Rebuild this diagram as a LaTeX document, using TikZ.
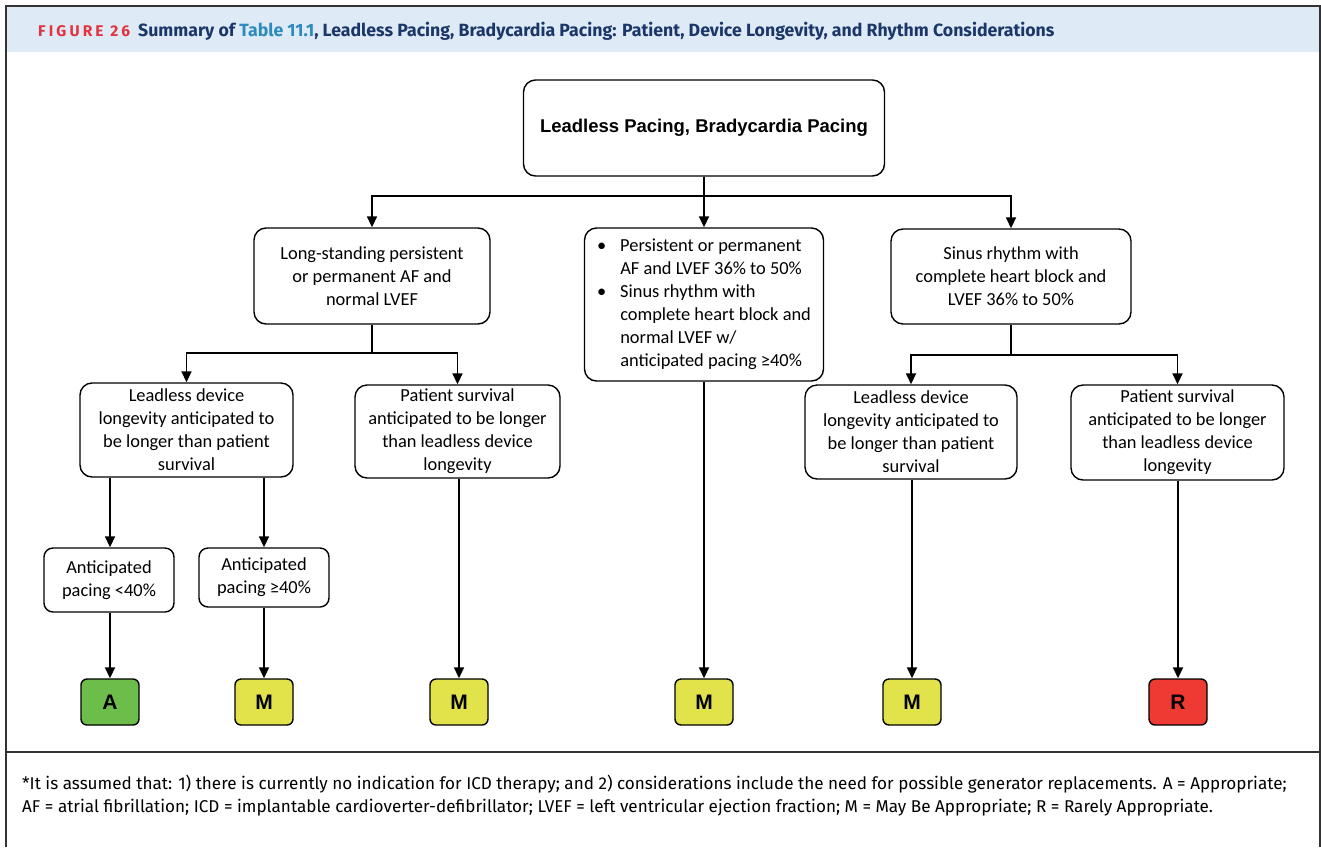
\documentclass[tikz,border=0pt]{standalone}
\usepackage{fontspec}
\setmainfont{Carlito}
\newfontfamily\headfont{Liberation Sans}
\newfontfamily\notefont{Fira Sans}
\usetikzlibrary{positioning, arrows.meta}
\definecolor{headblue}{HTML}{DEEAF6}
\definecolor{figred}{HTML}{E4333F}
\definecolor{navy}{HTML}{1B3668}
\definecolor{tablecol}{HTML}{2D8BBE}
\definecolor{ratingA}{HTML}{6CBD4A}
\definecolor{ratingM}{HTML}{E2E24B}
\definecolor{ratingR}{HTML}{EE3A33}
\definecolor{framegray}{HTML}{333333}

\begin{document}
\begin{tikzpicture}[x=1pt,y=-1pt,
					box/.style={draw, line width=1.4pt, rounded corners=12pt, align=center, inner sep=0pt, font=\fontsize{18.4}{23}\selectfont},
					smallbox/.style={box, rounded corners=9pt},
					rating/.style={draw, line width=1.4pt, rounded corners=6pt, minimum width=58pt, minimum height=46pt, inner sep=0pt, font=\headfont\bfseries\fontsize{21}{21}\selectfont},
					arr/.style={-{Triangle[length=11pt,width=10pt]}, line width=1.7pt},
					note/.style={anchor=west, inner sep=0pt, font=\notefont\fontsize{17.1}{19}\selectfont}]
	\useasboundingbox (0,0) rectangle (1321,847);
	\fill[headblue] (7,7) rectangle (1319,52);
	\draw[line width=2pt, framegray] (6,847) -- (6,6) -- (1320,6) -- (1320,847);
	\draw[line width=1.5pt, framegray] (6,752) -- (1320,752);
	\node[anchor=west, inner sep=0pt, font=\notefont\bfseries\fontsize{17.7}{19}\selectfont] (title) at (38,31)
		{{\color{figred}\addfontfeatures{LetterSpace=20}\fontsize{15.5}{19}\selectfont FIGURE 26}\hspace{8pt}\textcolor{navy}{Summary of} \textcolor{tablecol}{Table 11.1}\textcolor{navy}{, Leadless Pacing, Bradycardia Pacing: Patient, Device Longevity, and Rhythm Considerations}};

	\node[box, minimum width=361pt, minimum height=96pt, font=\headfont\bfseries\fontsize{18.5}{22}\selectfont] (root) at (704,128) {Leadless Pacing, Bradycardia Pacing};

	\node[box, minimum width=236pt, minimum height=96pt] (af) at (372,276) {Long-standing persistent\\or permanent AF and\\normal LVEF};
	\node[box, minimum width=239pt, minimum height=153pt] (mixed) at (704,304.5)
		{\begin{tabular}{@{}l@{\hspace{14pt}}l@{}}
			• & Persistent or permanent\\
			& AF and LVEF 36\% to 50\%\\
			• & Sinus rhythm with\\
			& complete heart block and\\
			& normal LVEF w/\\
			& anticipated pacing ≥40\%
		\end{tabular}};
	\node[box, minimum width=240pt, minimum height=95pt] (sinus) at (1011,276.5) {Sinus rhythm with\\complete heart block and\\LVEF 36\% to 50\%};

	\node[box, minimum width=213pt, minimum height=94pt] (afdevice) at (186.5,430) {Leadless device\\longevity anticipated to\\be longer than patient\\survival};
	\node[box, minimum width=205pt, minimum height=93pt] (afpatient) at (457.5,431.5) {Patient survival\\anticipated to be longer\\than leadless device\\longevity};
	\node[box, minimum width=212pt, minimum height=94pt] (sinusdevice) at (911,432) {Leadless device\\longevity anticipated to\\be longer than patient\\survival};
	\node[box, minimum width=213pt, minimum height=95pt] (sinuspatient) at (1177.5,432.5) {Patient survival\\anticipated to be longer\\than leadless device\\longevity};

	\node[smallbox, minimum width=130pt, minimum height=64pt] (pacelow) at (109,580) {Anticipated\\pacing <40\%};
	\node[smallbox, minimum width=130pt, minimum height=59pt] (pacehigh) at (264,577.5) {Anticipated\\pacing ≥40\%};

	\node[rating, fill=ratingA] (ratea) at (110,702) {A};
	\node[rating, fill=ratingM] (ratem1) at (264,702) {M};
	\node[rating, fill=ratingM] (ratem2) at (459,702) {M};
	\node[rating, fill=ratingM] (ratem3) at (704,702) {M};
	\node[rating, fill=ratingM] (ratem4) at (912,702) {M};
	\node[rating, fill=ratingR] (rater) at (1178,702) {R};

	\draw[arr] (root.south) -- ++(0,19) -| (af.north);
	\draw[arr] (root.south) -- ++(0,19) -| (sinus.north);
	\draw[arr] (root.south) -- (mixed.north);
	\draw[arr] (af.south) -- ++(0,28) -| (afdevice.north);
	\draw[arr] (af.south) -- ++(0,28) -| (afpatient.north);
	\draw[arr] (sinus.south) -- ++(0,30) -| (sinusdevice.north);
	\draw[arr] (sinus.south) -- ++(0,30) -| (sinuspatient.north);
	\draw[arr] (ratea.north |- afdevice.south) -- (ratea.north |- pacelow.north);
	\draw[arr] (pacehigh.north |- afdevice.south) -- (pacehigh.north);
	\draw[arr] (ratea.north |- pacelow.south) -- (ratea.north);
	\draw[arr] (pacehigh.south) -- (ratem1.north);
	\draw[arr] (ratem2.north |- afpatient.south) -- (ratem2.north);
	\draw[arr] (ratem3.north |- mixed.south) -- (ratem3.north);
	\draw[arr] (ratem4.north |- sinusdevice.south) -- (ratem4.north);
	\draw[arr] (rater.north |- sinuspatient.south) -- (rater.north);

	\node[note] (note1) at (22,784) {*It is assumed that: 1) there is currently no indication for ICD therapy; and 2) considerations include the need for possible generator replacements. A = Appropriate;};
	\node[note] (note2) at (22,808) {AF = atrial fibrillation; ICD = implantable cardioverter-defibrillator; LVEF = left ventricular ejection fraction; M = May Be Appropriate; R = Rarely Appropriate.};
\end{tikzpicture}
\end{document}
